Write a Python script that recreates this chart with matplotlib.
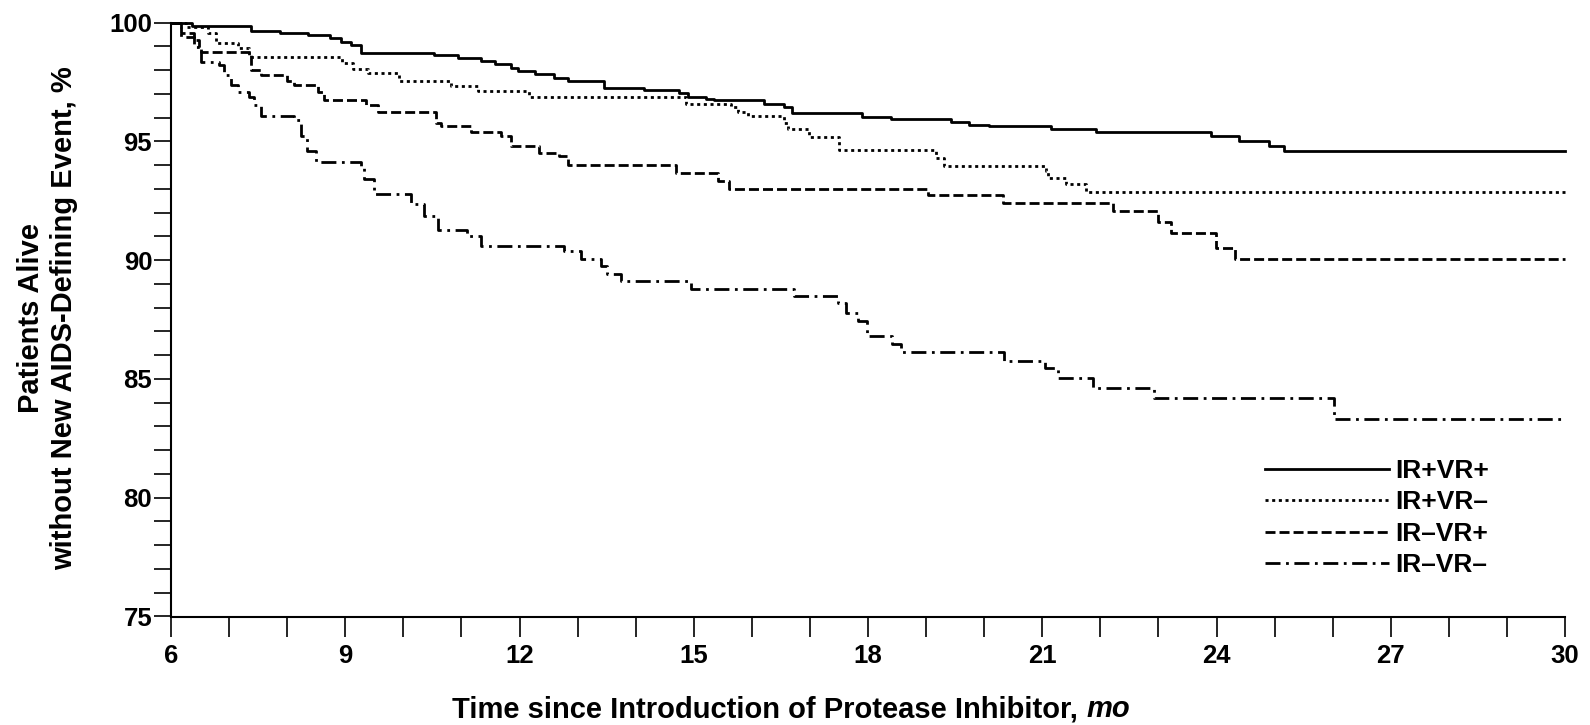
import matplotlib
matplotlib.use("Agg")
import matplotlib.pyplot as plt
from matplotlib.lines import Line2D

# ---------------- data ----------------
labels = ["IR+VR+", "IR+VR–", "IR–VR+", "IR–VR–"]

t_pp = [6.0, 6.37, 7.38, 7.87, 8.36, 8.73, 8.93, 9.10, 9.27, 10.53, 10.94, 11.34,
        11.57, 11.85, 11.97, 12.26, 12.60, 12.83, 13.46, 14.14, 14.75, 14.90, 15.21,
        15.35, 16.21, 16.56, 16.70, 17.90, 18.40, 19.43, 19.74, 20.08, 21.15, 21.93,
        23.90, 24.39, 24.90, 25.16]
s_pp = [100.0, 99.87, 99.66, 99.58, 99.48, 99.34, 99.20, 99.06, 98.74, 98.62, 98.52,
        98.40, 98.28, 98.10, 97.95, 97.82, 97.68, 97.55, 97.24, 97.17, 97.03, 96.89,
        96.78, 96.73, 96.57, 96.44, 96.19, 96.05, 95.94, 95.84, 95.70, 95.63, 95.52,
        95.40, 95.21, 95.00, 94.79, 94.58]

t_pm = [6.0, 6.26, 6.63, 6.77, 7.15, 7.35, 8.95, 9.13, 9.39, 9.93, 10.82, 11.28,
        12.17, 14.87, 15.64, 15.76, 15.93, 16.56, 16.62, 16.99, 17.50, 19.17, 19.31,
        21.07, 21.10, 21.41, 21.75]
s_pm = [100.0, 99.80, 99.55, 99.13, 98.92, 98.57, 98.29, 98.04, 97.87, 97.56, 97.34,
        97.14, 96.86, 96.57, 96.47, 96.26, 96.08, 95.77, 95.52, 95.19, 94.65, 94.31,
        93.98, 93.74, 93.47, 93.19, 92.87]

t_mp = [6.0, 6.17, 6.40, 6.49, 6.52, 7.38, 7.55, 8.00, 8.12, 8.53, 8.64, 9.36, 9.56,
        10.56, 10.65, 11.17, 11.68, 11.85, 12.34, 12.68, 12.83, 14.69, 15.41, 15.61,
        19.03, 20.32, 22.21, 22.99, 23.21, 23.99, 24.31]
s_mp = [100.0, 99.55, 99.27, 98.95, 98.78, 98.01, 97.80, 97.56, 97.38, 97.10, 96.75,
        96.54, 96.26, 95.77, 95.63, 95.38, 95.21, 94.82, 94.51, 94.37, 94.02, 93.68,
        93.33, 92.98, 92.73, 92.42, 92.07, 91.60, 91.13, 90.53, 90.07]

t_mm = [6.0, 6.17, 6.40, 6.52, 6.83, 6.92, 7.03, 7.15, 7.35, 7.43, 7.55, 8.12, 8.24,
        8.35, 8.50, 9.27, 9.33, 9.50, 10.13, 10.36, 10.59, 11.10, 11.34, 12.77, 13.06,
        13.40, 13.50, 13.75, 14.95, 16.73, 17.48, 17.62, 17.82, 17.99, 18.42, 18.57,
        20.35, 21.04, 21.27, 21.87, 22.93, 26.03]
s_mm = [100.0, 99.40, 98.99, 98.36, 98.22, 97.80, 97.38, 97.10, 96.89, 96.54, 96.08,
        95.91, 95.21, 94.58, 94.12, 93.95, 93.40, 92.77, 92.35, 91.86, 91.27, 91.02,
        90.60, 90.39, 90.06, 89.76, 89.41, 89.12, 88.80, 88.49, 88.21, 87.79, 87.44,
        86.80, 86.46, 86.13, 85.76, 85.48, 85.06, 84.64, 84.18, 83.30]

x_major = [6, 9, 12, 15, 18, 21, 24, 27, 30]
x_minor = list(range(6, 31))
y_major = [75, 80, 85, 90, 95, 100]
y_minor = list(range(75, 101))
x_end = 30

# ---------------- style ----------------
FONT = ["Liberation Sans", "DejaVu Sans"]
plt.rcParams["font.family"] = FONT
plt.rcParams["font.weight"] = "bold"

styles = [
    dict(linestyle="-"),
    dict(linestyle=(0, (1.1, 1.3))),
    dict(linestyle=(0, (3.6, 1.45))),
    dict(linestyle=(0, (5.4, 2.0, 1.0, 2.0))),
]
LW = 2.0

fig = plt.figure(figsize=(15.9, 7.25), dpi=100)
ax = fig.add_axes([171 / 1590, 1 - 616.5 / 725, (1565 - 171) / 1590, (616.5 - 22.7) / 725])

series = [(t_pp, s_pp), (t_pm, s_pm), (t_mp, s_mp), (t_mm, s_mm)]
handles = []
for (t, s), st, lab in zip(series, styles, labels):
    ax.step(list(t) + [x_end], list(s) + [s[-1]], where="post", color="black",
            lw=LW, clip_on=False, **st)
    handles.append(Line2D([], [], color="black", lw=LW, **st))

ax.set_xlim(6, 30)
ax.set_ylim(75, 100)
ax.set_xticks(x_major)
ax.set_xticks(x_minor, minor=True)
ax.set_yticks(y_major)
ax.set_yticks(y_minor, minor=True)
ax.tick_params(axis="x", which="both", direction="out", length=14.5, width=1.2,
               pad=5, labelsize=18.5)
ax.tick_params(axis="y", which="both", direction="out", length=12.5, width=1.2,
               pad=1, labelsize=18.5)
for lab in ax.get_xticklabels() + ax.get_yticklabels():
    lab.set_fontweight("bold")

for side in ("top", "right"):
    ax.spines[side].set_visible(False)
for side in ("left", "bottom"):
    ax.spines[side].set_linewidth(1.5)

# y label (two centered lines)
fig.text(31 / 1590, 1 - 318 / 725, "Patients Alive", rotation=90, ha="center",
         va="center", fontsize=21, fontweight="bold")
fig.text(64 / 1590, 1 - 318 / 725, "without New AIDS-Defining Event, %", rotation=90,
         ha="center", va="center", fontsize=21, fontweight="bold")

# x label with italic "mo"
fig.canvas.draw()
renderer = fig.canvas.get_renderer()
main = fig.text(0, 1 - 717 / 725, "Time since Introduction of Protease Inhibitor, ",
                ha="left", va="baseline", fontsize=21, fontweight="bold")
ital = fig.text(0, 1 - 717 / 725, "mo", ha="left", va="baseline", fontsize=21,
                fontweight="bold", fontstyle="italic")
w1 = main.get_window_extent(renderer).width
w2 = ital.get_window_extent(renderer).width
x0 = 791 - (w1 + w2) / 2
main.set_x(x0 / 1590)
ital.set_x((x0 + w1) / 1590)

leg = ax.legend(handles, labels, loc="upper left",
                bbox_to_anchor=(1265 / 1590, 1 - 459 / 725),
                bbox_transform=fig.transFigure, frameon=False, fontsize=19,
                handlelength=4.7, handletextpad=0.25, labelspacing=0.28,
                borderpad=0, borderaxespad=0)
for txt in leg.get_texts():
    txt.set_fontweight("bold")

fig.savefig("out.png", dpi=100)
